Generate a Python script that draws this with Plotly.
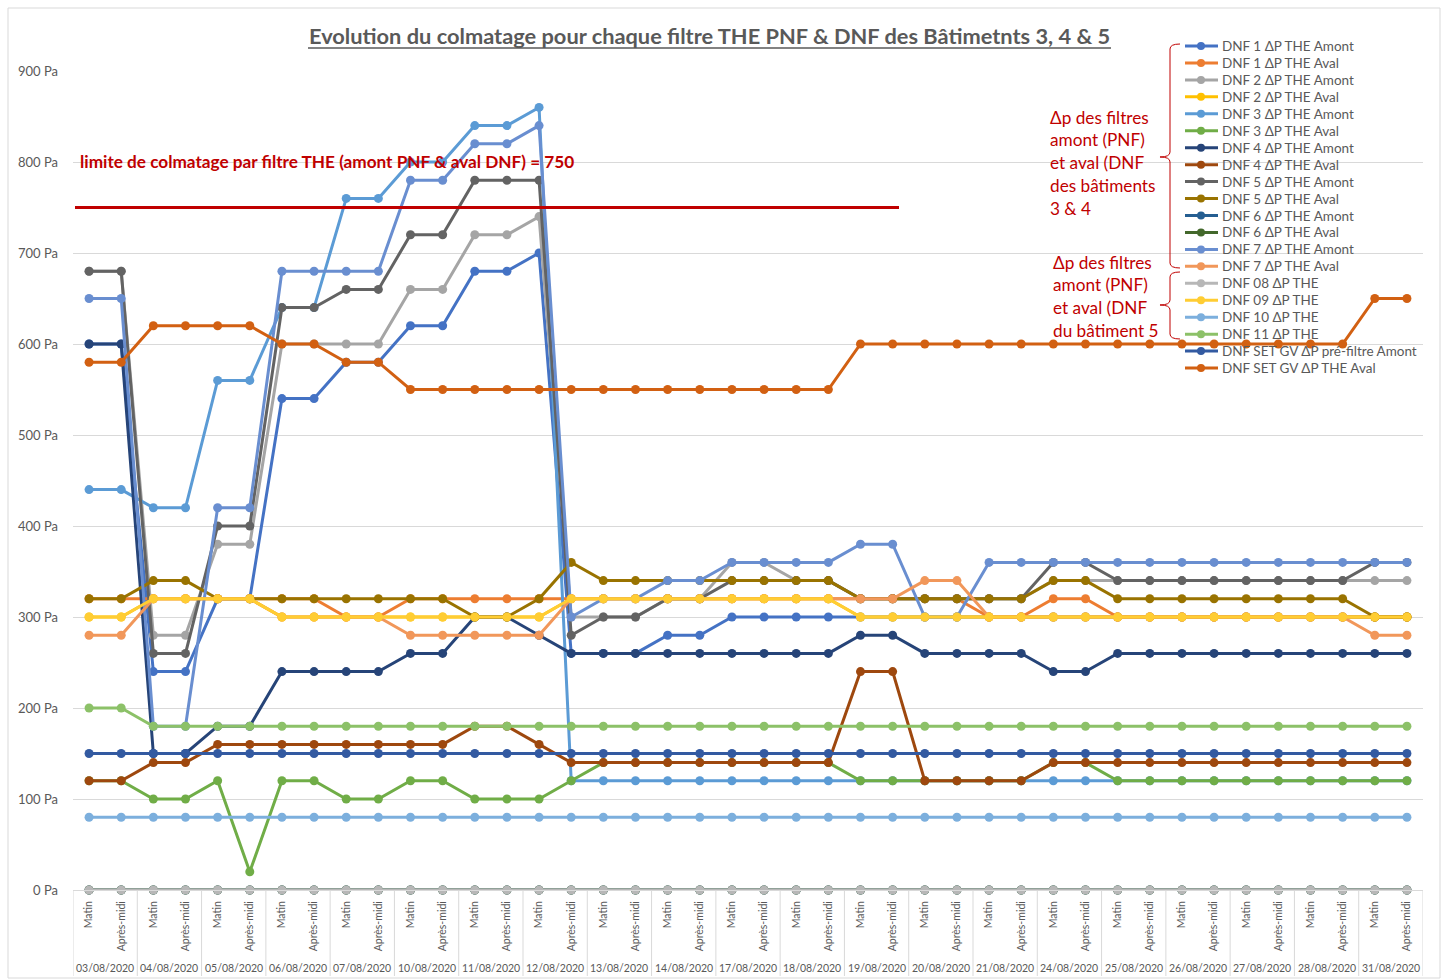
import plotly.graph_objects as go

# ---- Categories -------------------------------------------------------------
dates = ["03/08/2020", "04/08/2020", "05/08/2020", "06/08/2020", "07/08/2020",
         "10/08/2020", "11/08/2020", "12/08/2020", "13/08/2020", "14/08/2020",
         "17/08/2020", "18/08/2020", "19/08/2020", "20/08/2020", "21/08/2020",
         "24/08/2020", "25/08/2020", "26/08/2020", "27/08/2020", "28/08/2020",
         "31/08/2020"]
halves = ["Matin", "Après-midi"]

# ---- Series values (Pa), one value per half-day ------------------------------
dnf1_amont = [600, 600, 240, 240, 320, 320, 540, 540, 580, 580, 620, 620, 680, 680,
              700, 260, 260, 260, 280, 280, 300, 300, 300, 300, 300, 300, 300, 300,
              300, 300, 300, 300, 300, 300, 300, 300, 300, 300, 300, 300, 300, 300]
dnf1_aval = [320, 320, 320, 320, 320, 320, 320, 320, 300, 300, 320, 320, 320, 320,
             320, 320, 320, 320, 320, 320, 320, 320, 320, 320, 320, 320, 320, 320,
             300, 300, 320, 320, 300, 300, 300, 300, 300, 300, 300, 300, 300, 300]
dnf2_amont = [680, 680, 280, 280, 380, 380, 600, 600, 600, 600, 660, 660, 720, 720,
              740, 300, 300, 300, 320, 320, 360, 360, 340, 340, 320, 320, 320, 320,
              320, 320, 340, 340, 340, 340, 340, 340, 340, 340, 340, 340, 340, 340]
dnf2_aval = [300, 300, 320, 320, 320, 320, 300, 300, 300, 300, 300, 300, 300, 300,
             300, 320, 320, 320, 320, 320, 320, 320, 320, 320, 300, 300, 300, 300,
             300, 300, 300, 300, 300, 300, 300, 300, 300, 300, 300, 300, 300, 300]
dnf3_amont = [440, 440, 420, 420, 560, 560, 640, 640, 760, 760, 800, 800, 840, 840,
              860, 120, 120, 120, 120, 120, 120, 120, 120, 120, 120, 120, 120, 120,
              120, 120, 120, 120, 120, 120, 120, 120, 120, 120, 120, 120, 120, 120]
dnf3_aval = [120, 120, 100, 100, 120, 20, 120, 120, 100, 100, 120, 120, 100, 100,
             100, 120, 140, 140, 140, 140, 140, 140, 140, 140, 120, 120, 120, 120,
             120, 120, 140, 140, 120, 120, 120, 120, 120, 120, 120, 120, 120, 120]
dnf4_amont = [600, 600, 150, 150, 180, 180, 240, 240, 240, 240, 260, 260, 300, 300,
              280, 260, 260, 260, 260, 260, 260, 260, 260, 260, 280, 280, 260, 260,
              260, 260, 240, 240, 260, 260, 260, 260, 260, 260, 260, 260, 260, 260]
dnf4_aval = [120, 120, 140, 140, 160, 160, 160, 160, 160, 160, 160, 160, 180, 180,
             160, 140, 140, 140, 140, 140, 140, 140, 140, 140, 240, 240, 120, 120,
             120, 120, 140, 140, 140, 140, 140, 140, 140, 140, 140, 140, 140, 140]
dnf5_amont = [680, 680, 260, 260, 400, 400, 640, 640, 660, 660, 720, 720, 780, 780,
              780, 280, 300, 300, 320, 320, 340, 340, 340, 340, 320, 320, 320, 320,
              320, 320, 360, 360, 340, 340, 340, 340, 340, 340, 340, 340, 360, 360]
dnf5_aval = [320, 320, 340, 340, 320, 320, 320, 320, 320, 320, 320, 320, 300, 300,
             320, 360, 340, 340, 340, 340, 340, 340, 340, 340, 320, 320, 320, 320,
             320, 320, 340, 340, 320, 320, 320, 320, 320, 320, 320, 320, 300, 300]
dnf6_amont = [0, 0, 0, 0, 0, 0, 0, 0, 0, 0, 0, 0, 0, 0, 0, 0, 0, 0, 0, 0, 0,
              0, 0, 0, 0, 0, 0, 0, 0, 0, 0, 0, 0, 0, 0, 0, 0, 0, 0, 0, 0, 0]
dnf6_aval = [0, 0, 0, 0, 0, 0, 0, 0, 0, 0, 0, 0, 0, 0, 0, 0, 0, 0, 0, 0, 0,
             0, 0, 0, 0, 0, 0, 0, 0, 0, 0, 0, 0, 0, 0, 0, 0, 0, 0, 0, 0, 0]
dnf7_amont = [650, 650, 180, 180, 420, 420, 680, 680, 680, 680, 780, 780, 820, 820,
              840, 300, 320, 320, 340, 340, 360, 360, 360, 360, 380, 380, 300, 300,
              360, 360, 360, 360, 360, 360, 360, 360, 360, 360, 360, 360, 360, 360]
dnf7_aval = [280, 280, 320, 320, 320, 320, 300, 300, 300, 300, 280, 280, 280, 280,
             280, 320, 320, 320, 320, 320, 320, 320, 320, 320, 320, 320, 340, 340,
             300, 300, 300, 300, 300, 300, 300, 300, 300, 300, 300, 300, 280, 280]
dnf08 = [0, 0, 0, 0, 0, 0, 0, 0, 0, 0, 0, 0, 0, 0, 0, 0, 0, 0, 0, 0, 0,
         0, 0, 0, 0, 0, 0, 0, 0, 0, 0, 0, 0, 0, 0, 0, 0, 0, 0, 0, 0, 0]
dnf09 = [300, 300, 320, 320, 320, 320, 300, 300, 300, 300, 300, 300, 300, 300,
         300, 320, 320, 320, 320, 320, 320, 320, 320, 320, 300, 300, 300, 300,
         300, 300, 300, 300, 300, 300, 300, 300, 300, 300, 300, 300, 300, 300]
dnf10 = [80, 80, 80, 80, 80, 80, 80, 80, 80, 80, 80, 80, 80, 80, 80, 80, 80, 80, 80, 80, 80,
         80, 80, 80, 80, 80, 80, 80, 80, 80, 80, 80, 80, 80, 80, 80, 80, 80, 80, 80, 80, 80]
dnf11 = [200, 200, 180, 180, 180, 180, 180, 180, 180, 180, 180, 180, 180, 180,
         180, 180, 180, 180, 180, 180, 180, 180, 180, 180, 180, 180, 180, 180,
         180, 180, 180, 180, 180, 180, 180, 180, 180, 180, 180, 180, 180, 180]
setgv_prefiltre_amont = [150, 150, 150, 150, 150, 150, 150, 150, 150, 150, 150, 150, 150, 150,
                         150, 150, 150, 150, 150, 150, 150, 150, 150, 150, 150, 150, 150, 150,
                         150, 150, 150, 150, 150, 150, 150, 150, 150, 150, 150, 150, 150, 150]
setgv_the_aval = [580, 580, 620, 620, 620, 620, 600, 600, 580, 580, 550, 550, 550, 550,
                  550, 550, 550, 550, 550, 550, 550, 550, 550, 550, 600, 600, 600, 600,
                  600, 600, 600, 600, 600, 600, 600, 600, 600, 600, 600, 600, 650, 650]

series_names = ["DNF 1 ΔP THE Amont", "DNF 1 ΔP THE Aval", "DNF 2 ΔP THE Amont",
                "DNF 2 ΔP THE Aval", "DNF 3 ΔP THE Amont", "DNF 3 ΔP THE Aval",
                "DNF 4 ΔP THE Amont", "DNF 4 ΔP THE Aval", "DNF 5 ΔP THE Amont",
                "DNF 5 ΔP THE Aval", "DNF 6 ΔP THE Amont", "DNF 6 ΔP THE Aval",
                "DNF 7 ΔP THE Amont", "DNF 7 ΔP THE Aval", "DNF 08 ΔP THE",
                "DNF 09 ΔP THE", "DNF 10 ΔP THE", "DNF 11 ΔP THE",
                "DNF SET GV ΔP pré-filtre Amont", "DNF SET GV ΔP THE Aval"]
series_colors = ["#4472C4", "#ED7D31", "#A5A5A5", "#FFC000", "#5B9BD5", "#70AD47",
                 "#264478", "#9E480E", "#636363", "#997300", "#255E91", "#43682B",
                 "#698ED0", "#F1975A", "#B7B7B7", "#FFCD33", "#7CAFDD", "#8CC168",
                 "#335AA1", "#D26012"]
series_values = [dnf1_amont, dnf1_aval, dnf2_amont, dnf2_aval, dnf3_amont, dnf3_aval,
                 dnf4_amont, dnf4_aval, dnf5_amont, dnf5_aval, dnf6_amont, dnf6_aval,
                 dnf7_amont, dnf7_aval, dnf08, dnf09, dnf10, dnf11,
                 setgv_prefiltre_amont, setgv_the_aval]

LIMIT = 750
y_ticks = [0, 100, 200, 300, 400, 500, 600, 700, 800, 900]

# ---- Page geometry ----------------------------------------------------------
W, H = 1447, 980
ML, MR, MT, MB = 73, 24, 71, 90
PW = W - ML - MR
PH = H - MT - MB
FONT = "Lato"
TXT = "#595959"
RED = "#C00000"
GRID = "#D9D9D9"


def px(xp):
    return (xp - ML) / PW


def py(yp):
    return (H - MB - yp) / PH


# one slot per half-day, grouped by date
slot_labels = [h for _ in dates for h in halves]
slots = list(range(len(slot_labels)))
n_half = len(halves)

fig = go.Figure()
for name, color, ys in zip(series_names, series_colors, series_values):
    fig.add_trace(go.Scatter(
        x=slots, y=ys, mode="lines+markers", name=name,
        line=dict(color=color, width=3),
        marker=dict(color=color, size=9),
        cliponaxis=False, showlegend=False))

shapes = []
annotations = []

# date group labels and dividers under the axis
for g, d in enumerate(dates):
    annotations.append(dict(xref="x", yref="paper", x=g * n_half + (n_half - 1) / 2,
                            y=py(968), xanchor="center", yanchor="middle",
                            showarrow=False, text=d,
                            font=dict(family=FONT, size=10.5, color=TXT)))
for g in range(len(dates) + 1):
    xb = g * n_half - 0.5
    shapes.append(dict(type="line", xref="x", yref="paper", x0=xb, x1=xb,
                       y0=py(890), y1=py(976), line=dict(color=GRID, width=1)))

# clogging limit
shapes.append(dict(type="line", xref="paper", yref="y", x0=px(75), x1=px(899),
                   y0=LIMIT, y1=LIMIT, line=dict(color=RED, width=3)))
annotations.append(dict(xref="paper", yref="paper", x=px(78), y=py(161),
                        xanchor="left", yanchor="middle", showarrow=False,
                        text="<b>limite de colmatage par filtre THE (amont PNF & aval DNF) = %d</b>" % LIMIT,
                        font=dict(family=FONT, size=17.2, color=RED)))

# title with underline
annotations.append(dict(xref="paper", yref="paper", x=px(709), y=py(36),
                        xanchor="center", yanchor="middle", showarrow=False,
                        text="<b>Evolution du colmatage pour chaque filtre THE PNF & DNF des Bâtimetnts 3, 4 & 5</b>",
                        font=dict(family=FONT, size=21.8, color=TXT)))
shapes.append(dict(type="line", xref="paper", yref="paper", x0=px(308), x1=px(1111),
                   y0=py(48), y1=py(48), line=dict(color=TXT, width=1.5)))

# legend drawn by hand
for k, (name, color) in enumerate(zip(series_names, series_colors)):
    yy = 46 + k * 16.95
    shapes.append(dict(type="line", xref="paper", yref="paper", x0=px(1185), x1=px(1218),
                       y0=py(yy), y1=py(yy), line=dict(color=color, width=3)))
    shapes.append(dict(type="circle", xref="paper", yref="paper", fillcolor=color,
                       line=dict(color=color, width=0),
                       x0=px(1197), x1=px(1205), y0=py(yy - 4), y1=py(yy + 4)))
    annotations.append(dict(xref="paper", yref="paper", x=px(1220), y=py(yy),
                            xanchor="left", yanchor="middle", showarrow=False,
                            text=name, font=dict(family=FONT, size=13.5, color=TXT)))


# curly brackets grouping the legend
def bracket(top, mid, bottom, xv=1170, xt=1160, xe=1180, r=5):
    pts = [("M", xe, top), ("Q", xv, top, xv, top + r), ("L", xv, mid - r),
           ("Q", xv, mid, xt, mid), ("Q", xv, mid, xv, mid + r), ("L", xv, bottom - r),
           ("Q", xv, bottom, xe, bottom)]
    out = []
    for p in pts:
        cmd = p[0]
        coords = p[1:]
        pairs = ["%f,%f" % (px(coords[i]), py(coords[i + 1])) for i in range(0, len(coords), 2)]
        out.append(cmd + " " + " ".join(pairs))
    return " ".join(out)


shapes.append(dict(type="path", xref="paper", yref="paper",
                   path=bracket(44, 157, 268), line=dict(color=RED, width=1)))
shapes.append(dict(type="path", xref="paper", yref="paper",
                   path=bracket(272, 305, 339), line=dict(color=RED, width=1)))

block1 = ["Δp des filtres", "amont (PNF)", "et aval (DNF", "des bâtiments", "3 & 4"]
for k, line in enumerate(block1):
    annotations.append(dict(xref="paper", yref="paper", x=px(1048), y=py(117 + k * 22.8),
                            xanchor="left", yanchor="middle", showarrow=False,
                            text=line, font=dict(family=FONT, size=17.2, color=RED)))
block2 = ["Δp des filtres", "amont (PNF)", "et aval (DNF", "du bâtiment 5"]
for k, line in enumerate(block2):
    annotations.append(dict(xref="paper", yref="paper", x=px(1051), y=py(262 + k * 22.7),
                            xanchor="left", yanchor="middle", showarrow=False,
                            text=line, font=dict(family=FONT, size=17.2, color=RED)))

# chart frame
shapes.append(dict(type="rect", xref="paper", yref="paper", x0=px(8), x1=px(1440),
                   y0=py(978), y1=py(8), line=dict(color=GRID, width=1)))

fig.update_layout(
    width=W, height=H,
    margin=dict(l=ML, r=MR, t=MT, b=MB, autoexpand=False),
    paper_bgcolor="white", plot_bgcolor="white",
    font=dict(family=FONT, color=TXT),
    shapes=shapes, annotations=annotations,
    showlegend=False,
    xaxis=dict(range=[-0.5, len(slots) - 0.5], autorange=False, automargin=False,
               tickmode="array", tickvals=slots, ticktext=slot_labels,
               tickangle=-90,
               tickfont=dict(family=FONT, size=10.5, color=TXT),
               showgrid=False, zeroline=False, showline=True, linecolor=GRID,
               ticks="", ticklabelstandoff=6),
    yaxis=dict(range=[0, 900], tickvals=y_ticks, automargin=False,
               ticktext=["%d Pa" % v for v in y_ticks],
               tickfont=dict(family=FONT, size=13, color=TXT),
               gridcolor=GRID, gridwidth=1, zeroline=False,
               showline=False, ticklabelstandoff=14),
)

fig.write_html("out.html")
